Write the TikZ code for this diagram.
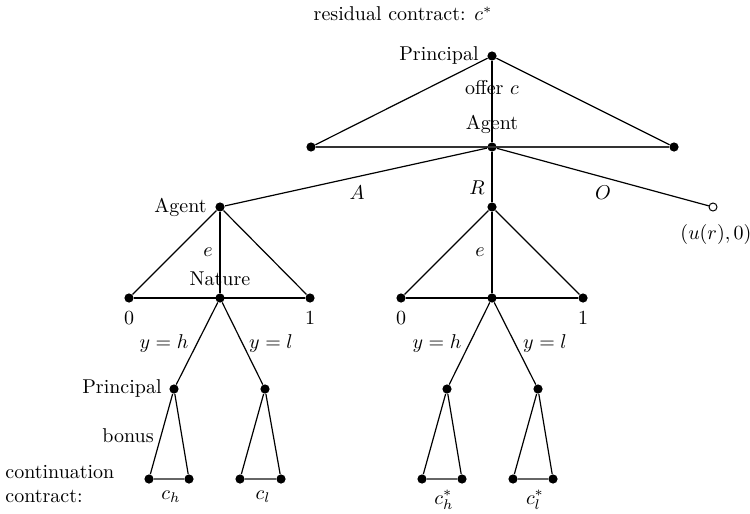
\documentclass[tikz,border=0pt]{standalone}
\begin{document}
\begin{tikzpicture}[x=0.5pt,y=-0.5pt,
  dot/.style={circle,fill=black,inner sep=0pt,minimum size=4.6pt},
  odot/.style={circle,draw=black,fill=white,inner sep=0pt,minimum size=4pt,line width=0.5pt},
  edge/.style={line width=0.6pt},
  base/.style={line width=0.7pt,draw=black!60},
  lbl/.style={inner sep=1pt}]
\useasboundingbox (0,0) rectangle (750,514);
% nodes
\node[dot] (P) at (492,56) {};
\node[dot] (Ag) at (492,147) {};
\node[dot] (TL) at (311,147) {};
\node[dot] (TR) at (674,147) {};
\node[dot] (AgL) at (220,207) {};
\node[dot] (Rn) at (492,207) {};
\node[odot] (Out) at (713,207) {};
% left effort triangle
\node[dot] (L0) at (129,298) {};
\node[dot] (Nat) at (220,298) {};
\node[dot] (L1) at (310,298) {};
% right effort triangle
\node[dot] (R0) at (401,298) {};
\node[dot] (RN) at (492,298) {};
\node[dot] (R1) at (583,298) {};
% principal nodes
\node[dot] (PLh) at (174,389) {};
\node[dot] (PLl) at (265,389) {};
\node[dot] (PRh) at (447,389) {};
\node[dot] (PRl) at (538,389) {};
% leaves
\node[dot] (a1) at (149,479) {};
\node[dot] (a2) at (189,479) {};
\node[dot] (b1) at (240,479) {};
\node[dot] (b2) at (281,479) {};
\node[dot] (c1) at (422,479) {};
\node[dot] (c2) at (462,479) {};
\node[dot] (d1) at (513,479) {};
\node[dot] (d2) at (553,479) {};
% edges
\draw[edge] (TL) -- (P) -- (TR);
\draw[edge] (P) -- (Ag);
\draw[edge,draw=black!80] (TL) -- (TR);
\draw[edge] (AgL) -- (Ag) -- (Out);
\draw[edge] (Ag) -- (Rn);
\draw[edge] (L0) -- (AgL) -- (L1);
\draw[edge] (AgL) -- (Nat);
\draw[edge] (L0) -- (L1);
\draw[edge] (R0) -- (Rn) -- (R1);
\draw[edge] (Rn) -- (RN);
\draw[edge] (R0) -- (R1);
\draw[edge] (PLh) -- (Nat) -- (PLl);
\draw[edge] (PRh) -- (RN) -- (PRl);
\draw[edge] (a1) -- (PLh) -- (a2);
\draw[edge] (b1) -- (PLl) -- (b2);
\draw[edge] (c1) -- (PRh) -- (c2);
\draw[edge] (d1) -- (PRl) -- (d2);
\draw[base] (a1) -- (a2);
\draw[base] (b1) -- (b2);
\draw[base] (c1) -- (c2);
\draw[base] (d1) -- (d2);
% labels
\node[lbl] (t1) at (403,14) {residual contract: $c^*$};
\node[lbl,anchor=east] (t2) at (481,55) {Principal};
\node[lbl] (t3) at (492,88) {offer $c$};
\node[lbl] (t4) at (492,124) {Agent};
\node[lbl] (t5) at (357,193) {$A$};
\node[lbl] (t6) at (477,188) {$R$};
\node[lbl] (t7) at (603,193) {$O$};
\node[lbl] (t8) at (716,234) {$(u(r),0)$};
\node[lbl,anchor=east] (t9) at (209,207) {Agent};
\node[lbl] (t10) at (208,252) {$e$};
\node[lbl] (t11) at (220,279) {Nature};
\node[lbl] (t12) at (129,318) {$0$};
\node[lbl] (t13) at (310,318) {$1$};
\node[lbl] (t14) at (164,343) {$y=h$};
\node[lbl] (t15) at (271,343) {$y=l$};
\node[lbl] (t16) at (480,252) {$e$};
\node[lbl] (t17) at (401,318) {$0$};
\node[lbl] (t18) at (583,318) {$1$};
\node[lbl] (t19) at (437,343) {$y=h$};
\node[lbl] (t20) at (545,343) {$y=l$};
\node[lbl,anchor=east] (t21) at (164,388) {Principal};
\node[lbl] (t22) at (128,436) {bonus};
\node[lbl,anchor=west,align=left] (t23) at (3,484) {continuation\\contract:};
\node[lbl] (t24) at (171,497) {$c_h$};
\node[lbl] (t25) at (263,497) {$c_l$};
\node[lbl] (t26) at (444,500) {$c_h^*$};
\node[lbl] (t27) at (535,500) {$c_l^*$};
\end{tikzpicture}
\end{document}
